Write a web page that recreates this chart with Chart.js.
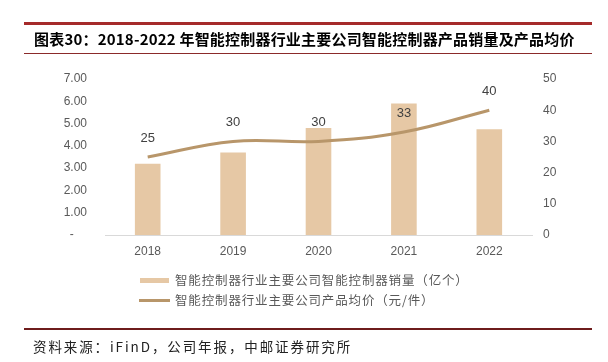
<!DOCTYPE html>
<html><head><meta charset="utf-8">
<script src="https://cdn.jsdelivr.net/npm/chart.js@4"></script>
<style>
html,body{margin:0;padding:0;background:#fff;}
#wrap{position:relative;width:608px;height:362px;overflow:hidden;}
#c{position:absolute;left:0;top:0;}
.abs{position:absolute;white-space:nowrap;}
#topline{left:24px;top:22px;width:568px;height:3px;background:#a52a2a;}
#title{left:34px;top:29px;font:bold 15px "Noto Sans CJK SC","DejaVu Sans",sans-serif;line-height:20px;letter-spacing:0.2px;color:#000;}
#thinline{left:24px;top:53px;width:568px;height:1px;background:#8b2a2a;}
#botline{left:24px;top:328px;width:568px;height:2px;background:#6e1c1c;}
#source{left:33px;top:337px;font:13.5px "Noto Sans CJK SC",sans-serif;line-height:18px;letter-spacing:1.9px;color:#222;}
.lgtxt{font:12.5px "Noto Sans CJK SC",sans-serif;letter-spacing:0.85px;color:#595959;line-height:16px;}
</style></head>
<body><div id="wrap">
<canvas id="c" width="608" height="362"></canvas>
<div class="abs" id="topline"></div>
<div class="abs" id="title">图表30：2018-2022 年智能控制器行业主要公司智能控制器产品销量及产品均价</div>
<div class="abs" id="thinline"></div>
<div class="abs" style="left:140px;top:278px;width:29px;height:5px;background:#e6c8a5;"></div>
<div class="abs lgtxt" style="left:175px;top:272px;">智能控制器行业主要公司智能控制器销量（亿个）</div>
<div class="abs" style="left:139px;top:299px;width:31px;height:3px;background:#b8966a;"></div>
<div class="abs lgtxt" style="left:175px;top:292px;">智能控制器行业主要公司产品均价（元/件）</div>
<div class="abs" id="botline"></div>
<div class="abs" id="source">资料来源：iFinD，公司年报，中邮证券研究所</div>
</div>
<script>
const categories = ['2018','2019','2020','2021','2022'];
const salesVolume = [3.2, 3.7, 4.8, 5.9, 4.75];
const avgPrice = [25, 30, 30, 33, 40];
const priceLabels = ['25','30','30','33','40'];

const lineLabels = {
  id:'lineLabels',
  afterDatasetsDraw(chart){
    const meta = chart.getDatasetMeta(1);
    const ctx = chart.ctx;
    ctx.save();
    ctx.font = '13px "Liberation Sans", Arial, sans-serif';
    ctx.fillStyle = '#404040';
    ctx.textAlign = 'center';
    ctx.textBaseline = 'middle';
    meta.data.forEach((p,i)=>{ ctx.fillText(priceLabels[i], p.x, p.y - 19); });
    ctx.restore();
  }
};

new Chart(document.getElementById('c'), {
  data:{
    labels: categories,
    datasets:[
      {type:'bar', data: salesVolume, backgroundColor:'#e6c8a5', yAxisID:'y', order:2,
       barPercentage:0.30, categoryPercentage:1.0},
      {type:'line', data: avgPrice, borderColor:'#b8966a', borderWidth:3, pointRadius:0,
       tension:0.4, yAxisID:'y1', order:1, fill:false}
    ]
  },
  options:{
    responsive:false, animation:false, devicePixelRatio:1,
    layout:{padding:{top:79,left:0,right:0,bottom:0}},
    plugins:{legend:{display:false}, tooltip:{enabled:false}},
    scales:{
      x:{grid:{display:false, drawTicks:false}, border:{display:true,color:'#d9d9d9',width:1},
         ticks:{padding:9, color:'#595959', font:{family:'"Liberation Sans", Arial, sans-serif', size:12}},
         afterFit(s){ s.height = 127; }},
      y:{position:'left', min:0, max:7, grid:{display:false, drawTicks:false}, border:{display:false},
         ticks:{stepSize:1, padding:18, color:'#595959', font:{family:'"Liberation Sans", Arial, sans-serif', size:12},
           callback:(v)=> v===0 ? '-    ' : v.toFixed(2)},
         afterFit(s){ s.width = 105; }},
      y1:{position:'right', min:0, max:50, grid:{display:false, drawTicks:false}, border:{display:false},
         ticks:{stepSize:10, padding:11, color:'#595959', font:{family:'"Liberation Sans", Arial, sans-serif', size:12}},
         afterFit(s){ s.width = 76; }}
    }
  },
  plugins:[lineLabels]
});
</script>
</body></html>
